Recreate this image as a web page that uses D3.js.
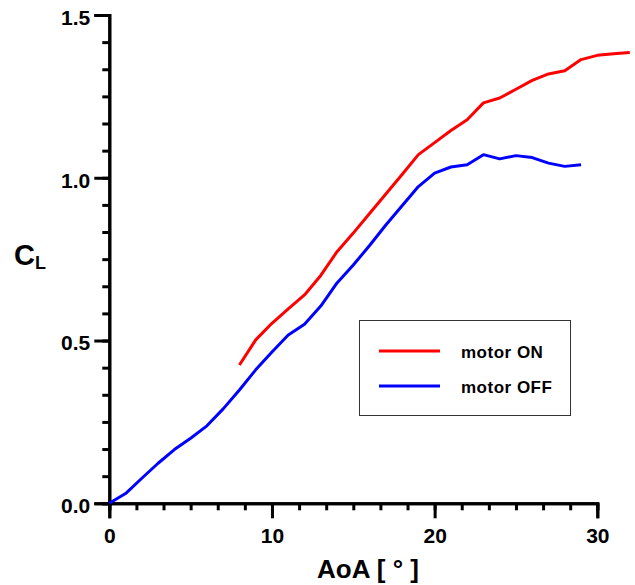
<!DOCTYPE html>
<html lang="en">
<head>
<meta charset="utf-8">
<title>CL vs AoA</title>
<script src="https://d3js.org/d3.v7.min.js"></script>
<style>
  body { margin: 0; background: #fff; }
  text { font-family: "Liberation Sans", Arial, sans-serif; font-weight: bold; }
</style>
</head>
<body>
<div id="chart"></div>
<script>
// data
var aoaOff = [0, 1, 2, 3, 4, 5, 6, 7, 8, 9, 10, 11, 12, 13, 14, 15, 16, 17, 18, 19, 20, 21, 22, 23, 24, 25, 26, 27, 28, 29];
var clOff = [0, 0.03, 0.077, 0.123, 0.165, 0.2, 0.238, 0.29, 0.348, 0.41, 0.465, 0.517, 0.55, 0.606, 0.677, 0.732, 0.792, 0.855, 0.914, 0.973, 1.014, 1.033, 1.04, 1.071, 1.058, 1.068, 1.062, 1.045, 1.035, 1.04];
var aoaOn = [8, 9, 10, 11, 12, 13, 14, 15, 16, 17, 18, 19, 20, 21, 22, 23, 24, 25, 26, 27, 28, 29, 30, 31, 32];
var clOn = [0.425, 0.502, 0.553, 0.597, 0.64, 0.7, 0.773, 0.83, 0.89, 0.95, 1.01, 1.071, 1.108, 1.145, 1.178, 1.23, 1.245, 1.272, 1.299, 1.319, 1.329, 1.363, 1.376, 1.381, 1.385];
var xTicks = [0, 10, 20, 30];
var yTicks = [0, 0.5, 1.0, 1.5];
var seriesNames = ["motor ON", "motor OFF"];
var seriesColors = ["#ff0000", "#0000ff"];

var W = 635, H = 585;
var x = d3.scaleLinear().domain([0, 30]).range([109.3, 597.3]);
var y = d3.scaleLinear().domain([0, 1.5]).range([503.3, 15]);

var svg = d3.select("#chart").append("svg")
    .attr("width", W).attr("height", H);

// minor ticks every 1/6 of a major step
var xMinor = d3.range(0, 19).map(function(i) { return i * 10 / 6; });
var yMinor = d3.range(0, 19).map(function(i) { return i * 0.5 / 6; });

var xAxis = svg.append("g")
    .attr("transform", "translate(0," + y(0) + ")");
xAxis.call(d3.axisBottom(x).tickValues(xMinor).tickSize(7).tickFormat(""));
xAxis.append("g").call(d3.axisBottom(x).tickValues(xTicks).tickSize(15).tickPadding(10).tickFormat(d3.format("d")));

var yAxis = svg.append("g")
    .attr("transform", "translate(" + x(0) + ",0)");
yAxis.call(d3.axisLeft(y).tickValues(yMinor).tickSize(7).tickFormat(""));
yAxis.append("g").call(d3.axisLeft(y).tickValues(yTicks).tickSize(15).tickPadding(4).tickFormat(d3.format(".1f")));

svg.selectAll(".domain").attr("stroke", "#000").attr("stroke-width", 3);
svg.selectAll(".tick line").attr("stroke", "#000").attr("stroke-width", 3);
svg.selectAll(".tick text")
    .attr("fill", "#000")
    .style("font-size", "21px")
    .style("font-family", "'Liberation Sans', Arial, sans-serif")
    .style("font-weight", "bold");
yAxis.selectAll(".tick text").attr("dy", "0.45em");

// lines
var line = d3.line()
    .x(function(d) { return x(d[0]); })
    .y(function(d) { return y(d[1]); });

svg.append("path")
    .datum(aoaOff.map(function(a, i) { return [a, clOff[i]]; }))
    .attr("fill", "none")
    .attr("stroke", seriesColors[1])
    .attr("stroke-width", 3)
    .attr("stroke-linejoin", "round")
    .attr("d", line);

svg.append("path")
    .datum(aoaOn.map(function(a, i) { return [a, clOn[i]]; }))
    .attr("fill", "none")
    .attr("stroke", seriesColors[0])
    .attr("stroke-width", 3)
    .attr("stroke-linejoin", "round")
    .attr("d", line);

// axis titles
svg.append("text")
    .attr("x", 368).attr("y", 578)
    .attr("text-anchor", "middle")
    .style("font-size", "26px")
    .text("AoA [ \u00B0 ]");

var cl = svg.append("text")
    .attr("x", 14).attr("y", 265)
    .style("font-size", "29px");
cl.append("tspan").text("C");
cl.append("tspan").attr("dy", 4).style("font-size", "18px").text("L");

// legend
var legend = svg.append("g");
legend.append("rect")
    .attr("x", 359.5).attr("y", 320.5)
    .attr("width", 211).attr("height", 95)
    .attr("fill", "#fff")
    .attr("stroke", "#333")
    .attr("stroke-width", 1);

seriesNames.forEach(function(name, i) {
    var ly = 351 + i * 35;
    legend.append("line")
        .attr("x1", 379).attr("x2", 440)
        .attr("y1", ly).attr("y2", ly)
        .attr("stroke", seriesColors[i])
        .attr("stroke-width", 3);
    legend.append("text")
        .attr("x", 461).attr("y", ly + 7)
        .style("font-size", "17px")
        .style("letter-spacing", "0.5px")
        .text(name);
});
</script>
</body>
</html>
